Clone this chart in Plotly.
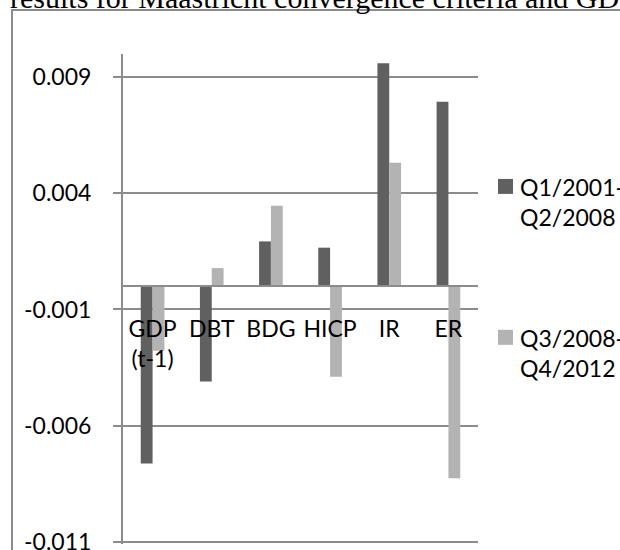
import plotly.graph_objects as go

categories = ["GDP<br>(t-1)", "DBT", "BDG", "HICP", "IR", "ER"]
series_names = ["Q1/2001-<br>Q2/2008", "Q3/2008-<br>Q4/2012"]
q1_2001_q2_2008 = [-0.00763, -0.0041, 0.00193, 0.00166, 0.0096, 0.00794]
q3_2008_q4_2012 = [-0.00278, 0.00078, 0.00347, -0.0039, 0.00532, -0.00827]
y_tick_vals = [-0.011, -0.006, -0.001, 0.004, 0.009]
y_tick_text = ["-0.011", "-0.006", "-0.001", "0.004", "0.009"]
title_text = "results for Maastricht convergence criteria and GDP"

colors = ["#606060", "#b3b3b3"]
grid = "#8c8c8c"
font_family = "Lato, Calibri, Carlito, sans-serif"

# plot area in pixels
L, R, T, B = 123, 478, 54, 544.3
W, H = R - L, B - T


def px(x):
    return (x - L) / W


def py(y):
    return (B - y) / H


fig = go.Figure()
for name, vals, col in zip(series_names, [q1_2001_q2_2008, q3_2008_q4_2012], colors):
    fig.add_trace(go.Bar(x=categories, y=vals, name=name, marker_color=col,
                         marker_line_width=0))

ymin, ymax = -0.0111, 0.010
zero_pos = (0 - ymin) / (ymax - ymin)

fig.update_layout(
    width=620, height=550,
    margin=dict(l=L, r=620 - R, t=T, b=550 - B, autoexpand=False),
    paper_bgcolor="white", plot_bgcolor="white",
    barmode="group", bargap=0.6, bargroupgap=0,
    font=dict(family=font_family, size=23, color="black"),
    showlegend=False,
    xaxis=dict(anchor="free", position=zero_pos, showline=True, linecolor=grid,
               linewidth=2, showgrid=False, ticks="", ticklabelstandoff=22,
               automargin=False,
               tickfont=dict(size=23, family=font_family), fixedrange=True),
    yaxis=dict(range=[ymin, ymax], tickvals=y_tick_vals, ticktext=y_tick_text,
               showgrid=True, gridcolor=grid, gridwidth=2, zeroline=False,
               showline=True, linecolor=grid, linewidth=2, ticks="outside",
               ticklen=8, tickcolor=grid, tickwidth=2, ticklabelstandoff=17,
               ticklabeloverflow="allow", automargin=False,
               tickfont=dict(size=23, family=font_family)),
)

# chart frame (left & top edges visible)
fig.add_shape(type="rect", xref="paper", yref="paper",
              x0=px(12), x1=px(700), y0=py(650), y1=py(10),
              line=dict(color=grid, width=2), layer="below")

# manual legend (square + two-line label)
legend_tops = [179, 330]
for name, col, top in zip(series_names, colors, legend_tops):
    fig.add_shape(type="rect", xref="paper", yref="paper",
                  x0=px(498), x1=px(513), y0=py(top + 15), y1=py(top),
                  fillcolor=col, line=dict(width=0))
    fig.add_annotation(text=name, xref="paper", yref="paper",
                       x=px(518), y=py(top + 23), xanchor="left", yanchor="middle",
                       align="left", showarrow=False,
                       font=dict(family=font_family, size=23, color="black"))

# document caption above the chart, cut at the top edge
fig.add_annotation(text=title_text, xref="paper", yref="paper",
                   x=px(8), y=py(-3), xanchor="left", yanchor="middle",
                   showarrow=False,
                   font=dict(family="Liberation Serif, Times New Roman, serif", size=30, color="black"))

fig.write_html("out.html", config={"displayModeBar": False},
               post_script="document.body.style.margin='0';")
